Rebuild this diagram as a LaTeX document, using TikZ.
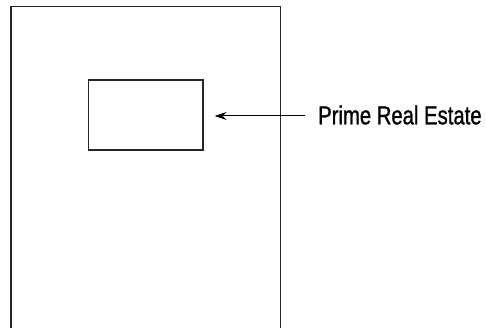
\documentclass[tikz,border=0pt]{standalone}
\usepackage{fontspec}
\newfontfamily\labelfont[FakeStretch=0.78,FakeBold=1]{Liberation Sans}
\usetikzlibrary{arrows.meta}
\begin{document}
\begin{tikzpicture}[x=1pt,y=1pt,
  frame/.style={line width=1.2pt,draw=black!85},
  pointer/.style={line width=1pt,-{Stealth[length=12pt,width=8pt,inset=4pt]}},
  label/.style={font=\labelfont\fontsize{26}{30}\selectfont,inner sep=0pt,anchor=base west}]
  \useasboundingbox (0,0) rectangle (486,328);
  \clip (0,0) rectangle (486,328);
  % page outline, running off the bottom edge
  \draw[frame] (11,-10) -- (11,321.5) -- (280.5,321.5) -- (280.5,-10);
  % highlighted region near the top of the page
  \node[frame,draw,minimum width=114.5pt,minimum height=70pt,inner sep=0pt] (zone) at (145.75,213) {};
  \node[label] (txt) at (318,203.7) {Prime Real Estate};
  \coordinate (tail) at (305,212);
  \draw[pointer] (tail) -- ([xshift=11pt]zone.east |- tail);
\end{tikzpicture}
\end{document}
